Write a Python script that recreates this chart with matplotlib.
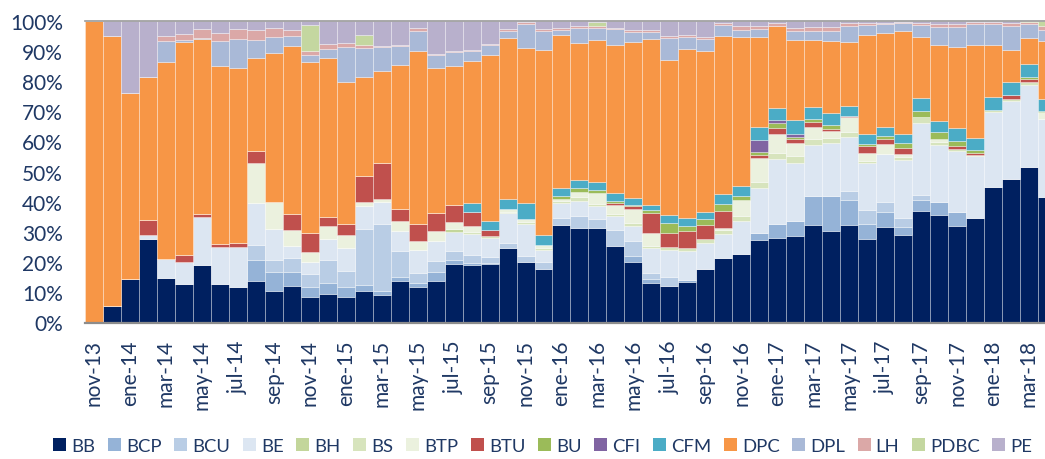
import matplotlib
matplotlib.use("Agg")
import matplotlib.pyplot as plt
import numpy as np
from matplotlib.ticker import PercentFormatter
from matplotlib.patches import Patch

# ---- data (percent of total per month) ----
months = ["nov-13", "dic-13",
          "ene-14", "feb-14", "mar-14", "abr-14", "may-14", "jun-14", "jul-14", "ago-14", "sep-14", "oct-14", "nov-14", "dic-14",
          "ene-15", "feb-15", "mar-15", "abr-15", "may-15", "jun-15", "jul-15", "ago-15", "sep-15", "oct-15", "nov-15", "dic-15",
          "ene-16", "feb-16", "mar-16", "abr-16", "may-16", "jun-16", "jul-16", "ago-16", "sep-16", "oct-16", "nov-16", "dic-16",
          "ene-17", "feb-17", "mar-17", "abr-17", "may-17", "jun-17", "jul-17", "ago-17", "sep-17", "oct-17", "nov-17", "dic-17",
          "ene-18", "feb-18", "mar-18", "abr-18"]

BB = [0, 5.5,
      14.4, 27.8, 14.6, 12.7, 19.2, 12.6, 11.8, 13.8, 10.5, 12.2, 8.5, 9.6,
      8.6, 10.5, 9.1, 13.8, 11.8, 13.8, 19.3, 19.1, 19.3, 24.6, 20.2, 17.7,
      32.3, 31.3, 31.3, 25.4, 20.1, 13.0, 12.2, 13.5, 17.7, 21.5, 22.7, 27.4,
      28.0, 28.7, 32.4, 30.2, 32.4, 27.6, 31.8, 29.1, 37.0, 35.6, 32.0, 34.3,
      44.8, 47.7, 51.6, 41.6]
BCP = [0, 0,
       0, 0, 0, 0, 0, 0, 0, 7.0, 6.1, 4.6, 3.3, 3.4,
       3.3, 1.9, 1.4, 1.3, 1.4, 2.8, 1.4, 0.8, 0.6, 0, 0, 0,
       0, 0, 0, 0, 2.0, 1.5, 0, 0.6, 0, 0, 0, 2.2,
       4.6, 5.0, 9.4, 11.6, 8.2, 5.2, 4.9, 2.7, 3.5, 4.2, 4.6, 0,
       0, 0, 0, 0]
BCU = [0, 0,
       0, 0, 0, 0, 0, 0, 0, 5.0, 4.2, 4.5, 4.2, 7.7,
       5.2, 18.6, 22.1, 8.6, 3.1, 3.9, 3.0, 2.4, 1.7, 1.7, 1.7, 2.4,
       2.5, 4.1, 3.0, 5.2, 5.0, 2.0, 3.0, 0, 0, 0, 0, 0,
       0, 0, 0, 0, 3.1, 4.4, 3.3, 2.9, 1.7, 0, 0, 0,
       0, 0, 0, 0]
BE = [0, 0,
      0, 1.1, 6.4, 7.2, 15.6, 12.5, 13.3, 13.8, 10.2, 4.1, 3.9, 6.9,
      7.7, 7.5, 7.2, 6.6, 7.7, 6.4, 6.3, 7.0, 6.3, 9.9, 10.7, 4.0,
      4.8, 4.8, 4.4, 4.5, 5.0, 8.1, 8.8, 9.5, 8.6, 7.7, 10.8, 14.9,
      21.5, 19.3, 17.1, 17.7, 17.9, 15.8, 15.8, 19.2, 24.1, 19.1, 20.2, 20.4,
      24.9, 25.7, 27.1, 25.8]
BH = [0, 0,
      0, 0, 0, 0, 0, 0, 0, 0, 0, 0, 0, 0,
      0, 0, 0, 0, 0, 0, 0.9, 0, 0, 0, 0, 0,
      0, 0, 0, 0, 0, 0, 0, 0, 0, 0, 0, 0,
      0, 0, 0, 0, 0, 0, 0, 0, 0, 0, 0, 0,
      0, 0, 0, 0]
BS = [0, 0,
      0, 0, 0, 0, 0, 0, 0, 0, 0, 0, 0, 0,
      0, 0, 0, 0, 0, 0, 0, 0.8, 0.9, 0.6, 0.8, 0.6,
      0.8, 1.3, 0.6, 0.8, 0.9, 0.8, 1.1, 1.1, 1.3, 1.4, 1.9, 1.9,
      2.0, 2.2, 1.9, 1.7, 1.4, 0.6, 0, 0.9, 1.7, 0.8, 0.8, 0.6,
      0.8, 0.8, 1.1, 0]
BTP = [0, 0,
       0, 0, 0, 0, 0, 0, 0, 13.3, 8.8, 5.2, 3.6, 4.3,
       4.1, 1.5, 1.1, 3.2, 3.0, 3.3, 2.4, 1.8, 0, 0.8, 0.9, 1.1,
       0.8, 1.9, 3.5, 3.1, 4.6, 4.2, 0, 0, 0, 0.8, 5.2, 8.0,
       6.3, 4.2, 3.9, 2.4, 5.0, 2.5, 3.3, 1.1, 0, 1.1, 0, 0,
       0, 0, 0, 2.2]
BTU = [0, 0,
       0, 5.1, 0, 2.5, 1.1, 0.9, 1.1, 3.8, 0, 5.5, 6.1, 3.1,
       3.9, 8.4, 11.9, 4.2, 5.5, 6.0, 5.5, 4.9, 1.9, 0, 0, 0,
       0, 0, 0, 0.5, 0.9, 6.5, 4.5, 5.5, 4.6, 5.5, 0, 1.1,
       2.2, 1.3, 1.9, 0.6, 0.3, 2.4, 1.7, 1.9, 0, 0, 0.9, 0.6,
       0, 1.2, 0.9, 0]
BU = [0, 0,
      0, 0, 0, 0, 0, 0, 0, 0, 0, 0, 0, 0,
      0, 0, 0, 0, 0, 0, 0, 0, 0, 0, 0, 0,
      0.7, 1.1, 1.1, 0.7, 0.4, 1.1, 3.5, 1.7, 2.0, 2.4, 1.2, 1.1,
      1.7, 0.8, 0.9, 1.4, 0, 0.6, 1.1, 1.7, 2.2, 2.2, 1.7, 0.8,
      0, 0, 0.6, 0.6]
CFI = [0, 0,
       0, 0, 0, 0, 0, 0, 0, 0, 0, 0, 0, 0,
       0, 0, 0, 0, 0, 0, 0, 0, 0, 0, 0, 0,
       0, 0, 0, 0, 0, 0, 0, 0, 0, 0, 0, 4.0,
       0.8, 0.9, 0, 0, 0, 0, 0, 0, 0, 0, 0, 0,
       0, 0, 0, 0]
CFM = [0, 0,
       0, 0, 0, 0, 0, 0, 0, 0, 0, 0, 0, 0,
       0, 0, 0, 0, 0, 0, 0, 2.9, 2.8, 3.5, 5.3, 3.3,
       2.8, 2.8, 2.5, 2.7, 2.2, 1.7, 2.5, 2.8, 2.5, 3.1, 3.3, 4.3,
       4.0, 4.8, 4.1, 3.9, 3.5, 3.3, 3.1, 3.1, 4.1, 3.9, 4.4, 4.0,
       4.4, 4.4, 4.4, 3.8]
DPC = [100, 89.5,
       61.8, 47.2, 65.2, 70.4, 58.2, 59.1, 58.1, 30.8, 49.4, 55.6, 56.6, 52.6,
       46.8, 33.0, 30.4, 47.6, 57.5, 48.2, 46.0, 47.1, 55.3, 53.2, 51.3, 61.2,
       50.9, 45.3, 47.2, 49.0, 52.0, 55.0, 51.4, 56.0, 53.3, 52.5, 49.6, 29.8,
       27.3, 26.5, 22.2, 23.7, 21.0, 33.0, 31.1, 34.3, 20.4, 25.1, 26.8, 30.8,
       17.2, 10.5, 8.7, 19.4]
DPL = [0, 0,
       0, 0, 7.2, 0.9, 0.3, 8.3, 9.8, 6.2, 5.3, 3.1, 2.4, 3.0,
       11.6, 9.5, 8.0, 6.1, 6.6, 4.3, 4.6, 3.3, 3.3, 2.4, 8.0, 6.4,
       1.7, 5.1, 4.0, 5.1, 3.2, 2.4, 7.2, 3.9, 4.1, 3.6, 2.3, 2.5,
       0, 3.0, 3.0, 3.5, 5.5, 3.3, 2.8, 2.4, 4.0, 6.0, 6.6, 6.8,
       6.9, 8.0, 4.4, 3.6]
LH = [0, 0,
      0, 0, 1.4, 1.8, 2.7, 2.5, 3.1, 3.3, 3.0, 2.2, 1.4, 1.7,
      1.4, 1.1, 0.5, 0.5, 0.8, 0.3, 0.4, 0.3, 0.4, 0.6, 0.8, 0.6,
      0.6, 0.6, 0.8, 0.5, 0.6, 0.5, 0.6, 0.9, 0.6, 0.8, 1.1, 0.9,
      1.1, 0.9, 1.1, 1.1, 0.9, 0.8, 0.6, 0.6, 0.8, 0.9, 0.9, 0.8,
      0.8, 1.1, 0.8, 1.1]
PDBC = [0, 0,
        0, 0, 0, 0, 0, 0, 0, 0, 0, 0, 8.5, 0,
        0, 3.2, 0, 0, 0, 0, 0, 0, 0, 0, 0, 0,
        0, 0, 1.3, 0, 0, 0, 0, 0, 0, 0, 0, 0,
        0, 0, 0, 0, 0, 0, 0, 0, 0, 0, 0, 0,
        0, 0, 0.3, 1.9]
PE = [0, 5.0,
      23.8, 18.8, 5.2, 4.5, 2.9, 4.1, 2.8, 3.0, 2.5, 3.0, 1.4, 7.7,
      7.4, 4.8, 8.3, 8.0, 2.5, 11.0, 10.1, 9.7, 7.6, 2.8, 0.3, 2.8,
      2.4, 1.8, 0.3, 2.4, 3.1, 3.1, 5.2, 4.6, 5.3, 0.6, 1.9, 1.9,
      0.6, 2.4, 2.2, 2.2, 0.8, 0.6, 0.6, 0.3, 0.6, 1.1, 1.1, 0.3,
      0.3, 0.6, 0.1, 0]

series_names = ["BB", "BCP", "BCU", "BE", "BH", "BS", "BTP", "BTU", "BU",
                "CFI", "CFM", "DPC", "DPL", "LH", "PDBC", "PE"]
series_values = [BB, BCP, BCU, BE, BH, BS, BTP, BTU, BU, CFI, CFM, DPC, DPL, LH, PDBC, PE]
colors = ["#002060", "#95B3D7", "#B9CDE5", "#DCE6F2", "#C3D69B", "#D7E4BD",
          "#EBF1DE", "#C0504D", "#9BBB59", "#8064A2", "#4BACC6", "#F79646",
          "#A9B9D7", "#DBA8A7", "#C4D7A0", "#B8B0CC"]

# ---- figure ----
W, H = 1045, 460
fig = plt.figure(figsize=(W / 100, H / 100), dpi=100)
ax_left, ax_bottom, ax_top = 85, 323.5, 21.7
bar_px = 17.98
ax_width = bar_px * len(months)
ax = fig.add_axes([ax_left / W, 1 - ax_bottom / H, ax_width / W, (ax_bottom - ax_top) / H])

font = "Lato"
txt_color = "#1F3864"

data = np.array(series_values, dtype=float)
totals = data.sum(axis=0)
shares = data / totals  # 100% stacked
x = np.arange(len(months))
bottom = np.zeros(len(months))
for name, vals, col in zip(series_names, shares, colors):
    ax.bar(x, vals, bottom=bottom, width=1.0, color=col,
           edgecolor=(1, 1, 1, 0.45), linewidth=0.5, label=name, zorder=2)
    bottom += vals

ax.set_xlim(-0.5, len(months) - 0.5)
ax.set_ylim(0, 1)
ax.axhline(1.0, color="#9a9a9a", lw=1.2, zorder=3, clip_on=False)

ax.yaxis.set_major_formatter(PercentFormatter(1.0, decimals=0))
ax.set_yticks(np.arange(0, 1.01, 0.1))
ax.tick_params(axis="y", length=0, pad=16, labelsize=15, labelcolor=txt_color)
ax.set_xticks(x[::2])
ax.set_xticklabels(months[::2], rotation=90)
ax.tick_params(axis="x", length=0, pad=12, labelsize=15, labelcolor=txt_color)
for lab in ax.get_xticklabels() + ax.get_yticklabels():
    lab.set_fontfamily(font)

for s in ["top", "right", "left"]:
    ax.spines[s].set_visible(False)
ax.spines["bottom"].set_color("#8c8c8c")
ax.spines["bottom"].set_linewidth(1.6)
ax.spines["bottom"].set_zorder(4)

handles = [Patch(facecolor=c, edgecolor="none") for c in colors]
leg = fig.legend(handles, series_names, loc="center", ncol=len(series_names),
                 bbox_to_anchor=(543 / W, 1 - 447 / H), frameon=False,
                 prop={"family": font, "size": 13.3},
                 handlelength=0.7, handleheight=0.7, handletextpad=0.28,
                 columnspacing=0.68, borderpad=0, borderaxespad=0)
for t in leg.get_texts():
    t.set_color(txt_color)

fig.savefig("out.png", dpi=100)
